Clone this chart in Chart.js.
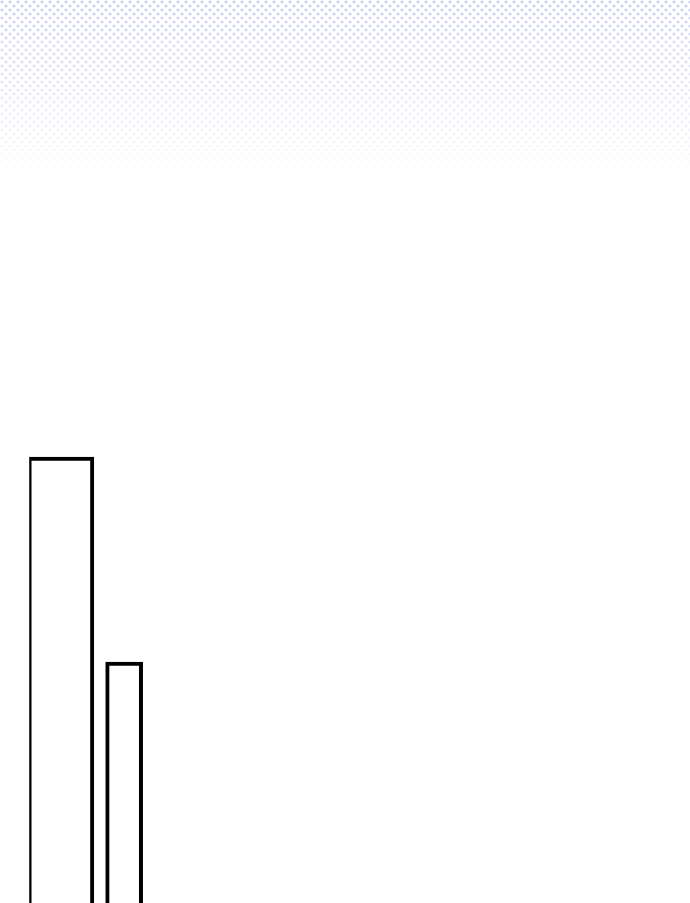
<!DOCTYPE html>
<html>
<head>
<meta charset="utf-8">
<script src="https://cdn.jsdelivr.net/npm/chart.js@4.4.1/dist/chart.umd.min.js"></script>
<style>
  html, body { margin: 0; padding: 0; background: #ffffff; overflow: hidden; width: 690px; height: 903px; }
  #wrap { position: absolute; left: 0; top: 0; width: 690px; height: 1200px; }
  canvas { display: block; }
</style>
</head>
<body>
<div id="wrap"><canvas id="chart" width="690" height="1200"></canvas></div>
<script>
// Data
const categories = ['A', 'B'];
const seriesA = [60, null];
const seriesB = [null, 39.5];
const yTicks = [0, 100];

const patternPlugin = {
  id: 'dotPattern',
  beforeDraw(chart) {
    const ctx = chart.ctx;
    const w = chart.width;
    const h = 178;
    const tile = document.createElement('canvas');
    tile.width = 8; tile.height = 8;
    const t = tile.getContext('2d');
    t.fillStyle = 'rgb(196,201,236)';
    t.beginPath(); t.arc(2, 2, 1.6, 0, Math.PI * 2); t.fill();
    t.beginPath(); t.arc(6, 6, 1.6, 0, Math.PI * 2); t.fill();
    const off = document.createElement('canvas');
    off.width = w; off.height = h;
    const o = off.getContext('2d');
    o.fillStyle = o.createPattern(tile, 'repeat');
    o.fillRect(0, 0, w, h);
    o.globalCompositeOperation = 'destination-in';
    const g = o.createLinearGradient(0, 0, 0, h);
    g.addColorStop(0, 'rgba(0,0,0,0.85)');
    g.addColorStop(1, 'rgba(0,0,0,0)');
    o.fillStyle = g;
    o.fillRect(0, 0, w, h);
    ctx.save();
    ctx.fillStyle = '#ffffff';
    ctx.fillRect(0, 0, w, chart.height);
    ctx.drawImage(off, 0, 0);
    ctx.restore();
  }
};

new Chart(document.getElementById('chart'), {
  type: 'bar',
  data: {
    labels: categories,
    datasets: [
      { data: seriesA, barThickness: 66, backgroundColor: '#ffffff', borderColor: '#000000', borderWidth: 4, grouped: false },
      { data: seriesB, barThickness: 37, backgroundColor: '#ffffff', borderColor: '#000000', borderWidth: 4, grouped: false }
    ]
  },
  options: {
    responsive: false,
    animation: false,
    devicePixelRatio: 1,
    layout: { padding: { left: 29.2, right: 534.2, top: 57, bottom: 143 } },
    plugins: { legend: { display: false }, tooltip: { enabled: false }, title: { display: false } },
    scales: {
      x: { display: false, offset: true },
      y: { display: false, min: yTicks[0], max: yTicks[1] }
    }
  },
  plugins: [patternPlugin]
});
</script>
</body>
</html>
